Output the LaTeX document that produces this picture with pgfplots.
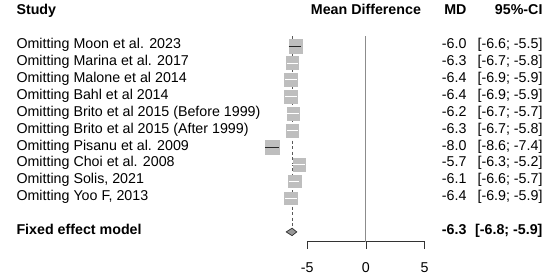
\documentclass[border=0pt]{standalone}
\usepackage{pgfplots}
\pgfplotsset{compat=1.18}
\usepackage{pgfplotstable}
\usepackage{fontspec}
\setmainfont{Liberation Sans}

% rows: k (negative row index), md, lower, upper
\pgfplotstableread{
k md lo hi
-3 -6.3 -6.7 -5.8
-4 -6.4 -6.9 -5.9
-5 -6.4 -6.9 -5.9
-6 -6.2 -6.7 -5.7
-7 -6.3 -6.7 -5.8
-9 -5.7 -6.3 -5.2
-10 -6.1 -6.6 -5.7
-11 -6.4 -6.9 -5.9
}\whiteci
\pgfplotstableread{
k md lo hi
-2 -6.0 -6.6 -5.5
-8 -8.0 -8.6 -7.4
}\blackci

\definecolor{boxgray}{HTML}{BEBEBE}
\definecolor{refgray}{HTML}{8C8C8C}
\newcommand{\fs}{\fontsize{14.3}{17}\selectfont}

\begin{document}
\begin{tikzpicture}
\begin{axis}[
  set layers,
  scale only axis, width=117.3bp, height=205.7bp,
  xmin=-5, xmax=5, ymin=-13.58, ymax=-1.41,
  clip=false,
  axis x line*=bottom, axis y line=none,
  xtick={-5,0,5}, tick align=outside, major tick length=7bp,
  x axis line style={black!80, line width=0.75pt},
  every tick/.style={black!80, line width=0.75pt},
  /pgf/number format/assume math mode=true,
  tick label style={font=\fs},
  xticklabel style={yshift=-10bp},
  ciw/.style={color=white, line width=0.75pt, mark=none, forget plot, on layer=axis foreground},
  cib/.style={color=black!85, line width=0.75pt, mark=none, forget plot, on layer=axis foreground},
]
% bounding box of the whole picture
\path (axis cs:-31.20,0.722) rectangle (axis cs:15.69,-15.73);
% reference line at 0
\addplot[refgray, line width=1pt, mark=none] coordinates {(0,-1.41) (0,-13.58)};
% fixed effect dashed line
\addplot[black!65, line width=1pt, mark=none, dash pattern=on 3bp off 2.5bp] coordinates {(-6.3,-1.41) (-6.3,-12.78)};
% boxes
\addplot[color=boxgray, only marks, mark=square*, mark size=6.4bp, line width=0.3pt] table[x=md,y=k] {\whiteci};
\addplot[color=boxgray, only marks, mark=square*, mark size=6.9bp, line width=0.3pt] table[x=md,y=k] {\blackci};
% CIs (white where inside the box)
\addplot[ciw] coordinates {(-6.7,-3) (-5.8,-3)};
\addplot[ciw] coordinates {(-6.9,-4) (-5.9,-4)};
\addplot[ciw] coordinates {(-6.9,-5) (-5.9,-5)};
\addplot[ciw] coordinates {(-6.7,-6) (-5.7,-6)};
\addplot[ciw] coordinates {(-6.7,-7) (-5.8,-7)};
\addplot[ciw] coordinates {(-6.3,-9) (-5.2,-9)};
\addplot[ciw] coordinates {(-6.6,-10) (-5.7,-10)};
\addplot[ciw] coordinates {(-6.9,-11) (-5.9,-11)};
\addplot[cib] coordinates {(-6.6,-2) (-5.5,-2)};
\addplot[cib] coordinates {(-8.6,-8) (-7.4,-8)};
% pooled diamond
\addplot[fill=boxgray!80!black, draw=black!80, line width=0.75pt, mark=none, on layer=axis foreground] coordinates {(-6.8,-13) (-6.3,-12.78) (-5.9,-13) (-6.3,-13.22)} -- cycle;

% headers
\node[anchor=mid west, font=\fs\bfseries] at (axis cs:-30.09,0) {Study};
\node[anchor=mid, font=\fs\bfseries] at (axis cs:0,0) {Mean Difference};
\node[anchor=mid east, font=\fs\bfseries] at (axis cs:8.87,0) {MD};
\node[anchor=mid east, font=\fs\bfseries] at (axis cs:15.35,0) {95\%-CI};

% study labels
\node[anchor=mid west, font=\fs] at (axis cs:-30.09,-2) {Omitting Moon et al. 2023};
\node[anchor=mid west, font=\fs] at (axis cs:-30.09,-3) {Omitting Marina et al. 2017};
\node[anchor=mid west, font=\fs] at (axis cs:-30.09,-4) {Omitting Malone et al 2014};
\node[anchor=mid west, font=\fs] at (axis cs:-30.09,-5) {Omitting Bahl et al 2014};
\node[anchor=mid west, font=\fs] at (axis cs:-30.09,-6) {Omitting Brito et al 2015 (Before 1999)};
\node[anchor=mid west, font=\fs] at (axis cs:-30.09,-7) {Omitting Brito et al 2015 (After 1999)};
\node[anchor=mid west, font=\fs] at (axis cs:-30.09,-8) {Omitting Pisanu et al. 2009};
\node[anchor=mid west, font=\fs] at (axis cs:-30.09,-9) {Omitting Choi et al. 2008};
\node[anchor=mid west, font=\fs] at (axis cs:-30.09,-10) {Omitting Solis, 2021};
\node[anchor=mid west, font=\fs] at (axis cs:-30.09,-11) {Omitting Yoo F, 2013};
\node[anchor=mid west, font=\fs\bfseries] at (axis cs:-30.09,-13) {Fixed effect model};

% MD column
\node[anchor=mid east, font=\fs] at (axis cs:8.87,-2) {-6.0};
\node[anchor=mid east, font=\fs] at (axis cs:8.87,-3) {-6.3};
\node[anchor=mid east, font=\fs] at (axis cs:8.87,-4) {-6.4};
\node[anchor=mid east, font=\fs] at (axis cs:8.87,-5) {-6.4};
\node[anchor=mid east, font=\fs] at (axis cs:8.87,-6) {-6.2};
\node[anchor=mid east, font=\fs] at (axis cs:8.87,-7) {-6.3};
\node[anchor=mid east, font=\fs] at (axis cs:8.87,-8) {-8.0};
\node[anchor=mid east, font=\fs] at (axis cs:8.87,-9) {-5.7};
\node[anchor=mid east, font=\fs] at (axis cs:8.87,-10) {-6.1};
\node[anchor=mid east, font=\fs] at (axis cs:8.87,-11) {-6.4};
\node[anchor=mid east, font=\fs\bfseries] at (axis cs:8.87,-13) {-6.3};

% CI column
\node[anchor=mid east, font=\fs] at (axis cs:15.35,-2) {[-6.6; -5.5]};
\node[anchor=mid east, font=\fs] at (axis cs:15.35,-3) {[-6.7; -5.8]};
\node[anchor=mid east, font=\fs] at (axis cs:15.35,-4) {[-6.9; -5.9]};
\node[anchor=mid east, font=\fs] at (axis cs:15.35,-5) {[-6.9; -5.9]};
\node[anchor=mid east, font=\fs] at (axis cs:15.35,-6) {[-6.7; -5.7]};
\node[anchor=mid east, font=\fs] at (axis cs:15.35,-7) {[-6.7; -5.8]};
\node[anchor=mid east, font=\fs] at (axis cs:15.35,-8) {[-8.6; -7.4]};
\node[anchor=mid east, font=\fs] at (axis cs:15.35,-9) {[-6.3; -5.2]};
\node[anchor=mid east, font=\fs] at (axis cs:15.35,-10) {[-6.6; -5.7]};
\node[anchor=mid east, font=\fs] at (axis cs:15.35,-11) {[-6.9; -5.9]};
\node[anchor=mid east, font=\fs\bfseries] at (axis cs:15.35,-13) {[-6.8; -5.9]};
\end{axis}
\end{tikzpicture}
\end{document}
